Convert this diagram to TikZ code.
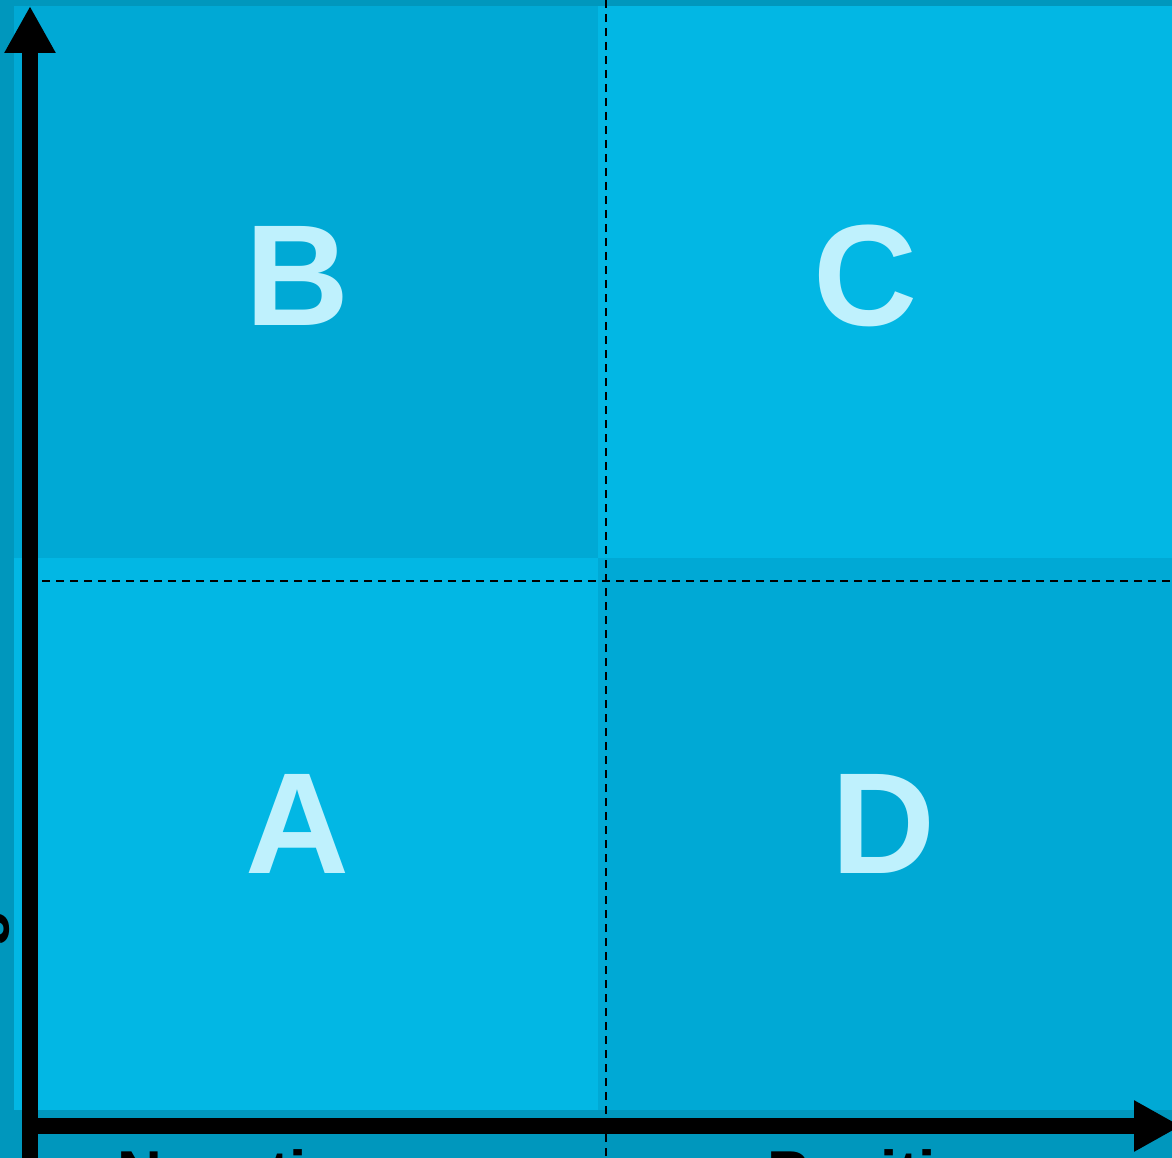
\documentclass[tikz,border=0pt]{standalone}
\usepackage{fontspec}
\setmainfont{Liberation Sans}
\usetikzlibrary{arrows.meta}
\definecolor{bgdark}{HTML}{0097BD}
\definecolor{qmid}{HTML}{00A9D5}
\definecolor{qlight}{HTML}{02B7E4}
\definecolor{letter}{HTML}{BFF1FD}
\tikzset{
  bigletter/.style={inner sep=0pt, anchor=base, text=letter, font=\fontsize{144}{144}\selectfont\bfseries},
  axislabel/.style={inner sep=0pt, anchor=base west, text=black, font=\fontsize{62}{62}\selectfont\bfseries},
  divider/.style={black, line width=1.8pt, dash pattern=on 8pt off 6pt},
  axis/.style={black, line width=16pt, -{Triangle[length=47pt,width=48pt]}}
}
\begin{document}
\begin{tikzpicture}[x=1pt,y=-1pt]
\useasboundingbox (0,0) rectangle (1172,1158);
\fill[bgdark] (0,0) rectangle (1172,1158);
% quadrants
\fill[qmid]   (14,6)    rectangle (598,558);
\fill[qlight] (598,6)   rectangle (1172,558);
\fill[qlight] (14,558)  rectangle (598,1110);
\fill[qmid]   (598,558) rectangle (1172,1110);
% dashed dividers
\coordinate (vtop) at (606,0);
\coordinate (vbot) at (606,1158);
\coordinate (hl) at (42,581);
\coordinate (hr) at (1172,581);
\draw[divider] (vtop) -- (vbot);
\draw[divider] (hl) -- (hr);
% letters
\node[bigletter] (B) at (297,325) {B};
\node[bigletter] (C) at (865,325) {C};
\node[bigletter] (A) at (297,873) {A};
\node[bigletter] (D) at (883,873) {D};
% axes
\coordinate (origin) at (30,1170);
\coordinate (ytip) at (30,6);
\coordinate (xstart) at (22,1126);
\coordinate (xtip) at (1181,1126);
\draw[axis] (origin) -- (ytip);
\draw[axis] (xstart) -- (xtip);
% axis labels (cut off by the page edge, as in the reference)
\node[axislabel] (neg) at (117.5,1194) {Negative};
\node[axislabel] (pos) at (767,1194) {Positive};
\node[inner sep=0pt, anchor=base west, rotate=90, text=black, font=\fontsize{62}{62}\selectfont\bfseries] (ylab) at (-3,948) {g};
\end{tikzpicture}
\end{document}
